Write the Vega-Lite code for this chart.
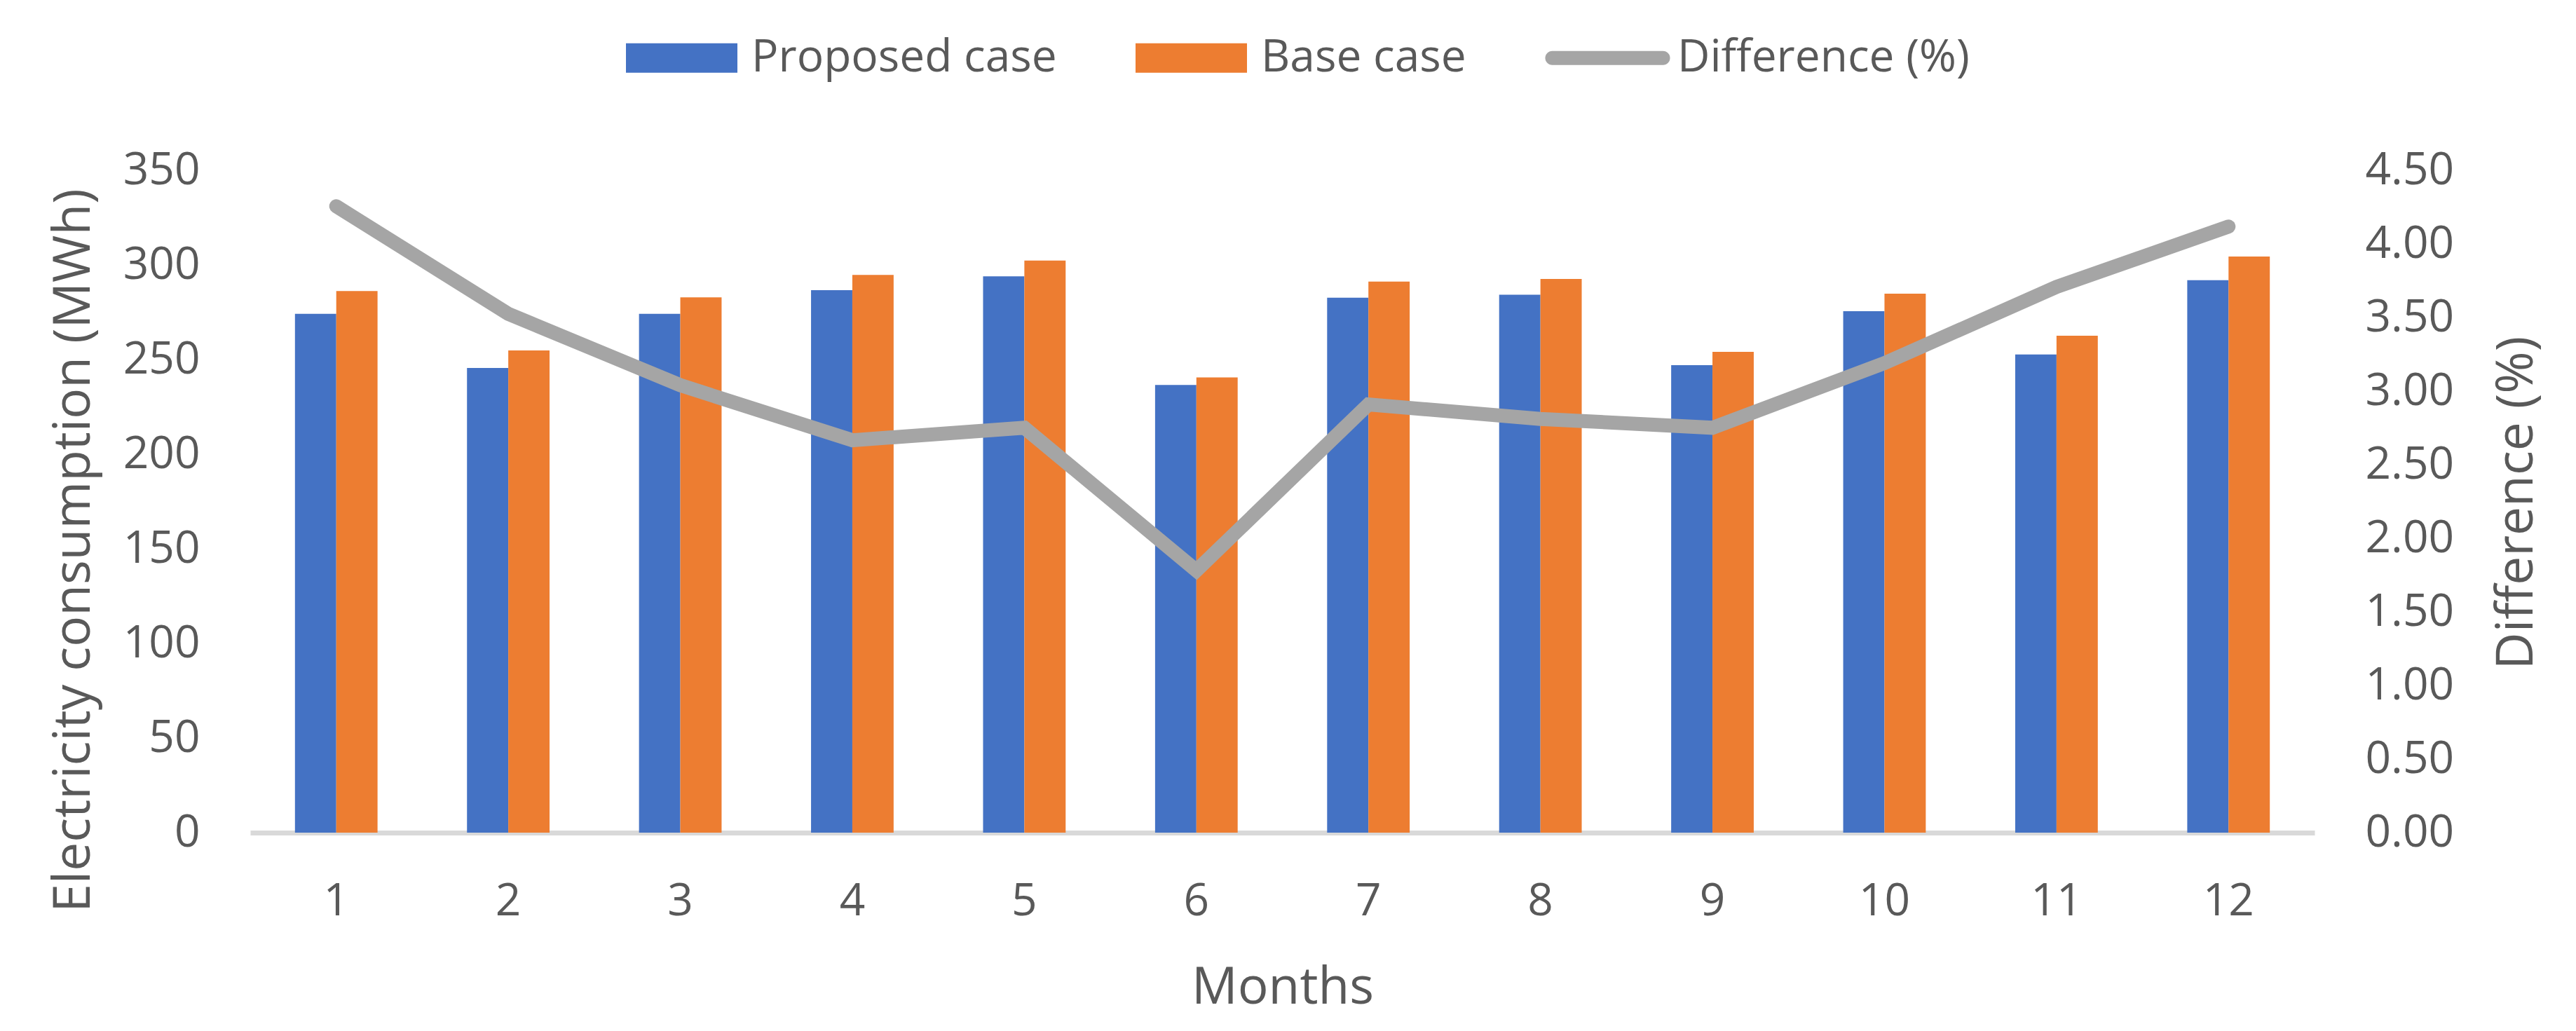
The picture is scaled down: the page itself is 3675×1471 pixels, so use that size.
{
  "$schema": "https://vega.github.io/schema/vega-lite/v6.json",
  "width": 2945,
  "height": 945,
  "autosize": {"type": "none"},
  "padding": {"left": 357, "top": 243, "right": 373, "bottom": 283},
  "background": "white",
  "config": {
    "view": {"stroke": null},
    "axis": {
      "labelFont": "Open Sans",
      "labelFontSize": 64,
      "labelColor": "#595959",
      "titleFont": "Open Sans",
      "titleFontSize": 73,
      "titleFontWeight": "normal",
      "titleColor": "#595959",
      "grid": false,
      "ticks": false
    }
  },
  "datasets": {
    "bars": [
      {"month": 1, "series": "Proposed case", "value": 274.2},
      {"month": 1, "series": "Base case", "value": 286.2},
      {"month": 2, "series": "Proposed case", "value": 245.6},
      {"month": 2, "series": "Base case", "value": 254.8},
      {"month": 3, "series": "Proposed case", "value": 274.2},
      {"month": 3, "series": "Base case", "value": 282.9},
      {"month": 4, "series": "Proposed case", "value": 286.7},
      {"month": 4, "series": "Base case", "value": 294.7},
      {"month": 5, "series": "Proposed case", "value": 294.0},
      {"month": 5, "series": "Base case", "value": 302.3},
      {"month": 6, "series": "Proposed case", "value": 236.6},
      {"month": 6, "series": "Base case", "value": 240.6},
      {"month": 7, "series": "Proposed case", "value": 282.7},
      {"month": 7, "series": "Base case", "value": 291.2},
      {"month": 8, "series": "Proposed case", "value": 284.3},
      {"month": 8, "series": "Base case", "value": 292.6},
      {"month": 9, "series": "Proposed case", "value": 247.0},
      {"month": 9, "series": "Base case", "value": 254.1},
      {"month": 10, "series": "Proposed case", "value": 275.6},
      {"month": 10, "series": "Base case", "value": 284.8},
      {"month": 11, "series": "Proposed case", "value": 252.7},
      {"month": 11, "series": "Base case", "value": 262.6},
      {"month": 12, "series": "Proposed case", "value": 291.9},
      {"month": 12, "series": "Base case", "value": 304.4}
    ],
    "diff": [
      {"month": 1, "series": "Difference (%)", "diff": 4.256},
      {"month": 2, "series": "Difference (%)", "diff": 3.525},
      {"month": 3, "series": "Difference (%)", "diff": 3.04},
      {"month": 4, "series": "Difference (%)", "diff": 2.666},
      {"month": 5, "series": "Difference (%)", "diff": 2.751},
      {"month": 6, "series": "Difference (%)", "diff": 1.781},
      {"month": 7, "series": "Difference (%)", "diff": 2.909},
      {"month": 8, "series": "Difference (%)", "diff": 2.811},
      {"month": 9, "series": "Difference (%)", "diff": 2.751},
      {"month": 10, "series": "Difference (%)", "diff": 3.19},
      {"month": 11, "series": "Difference (%)", "diff": 3.708},
      {"month": 12, "series": "Difference (%)", "diff": 4.118}
    ]
  },
  "encoding": {
    "x": {
      "field": "month",
      "type": "ordinal",
      "scale": {"paddingInner": 0.52, "paddingOuter": 0.26},
      "axis": {
        "title": "Months",
        "labelAngle": 0,
        "domain": true,
        "domainColor": "#D9D9D9",
        "domainWidth": 7,
        "labelPadding": 66,
        "titlePadding": 55
      }
    }
  },
  "layer": [
    {
      "data": {"name": "bars"},
      "mark": {"type": "bar"},
      "encoding": {
        "xOffset": {"field": "series", "type": "nominal", "scale": {"domain": ["Proposed case", "Base case"]}},
        "y": {
          "field": "value",
          "type": "quantitative",
          "scale": {"domain": [0, 350], "nice": false},
          "axis": {
            "title": "Electricity consumption (MWh)",
            "values": [0, 50, 100, 150, 200, 250, 300, 350],
            "domain": false,
            "labelPadding": 72,
            "titleAngle": -90,
            "titleX": -252,
            "titleY": 542,
            "titleAlign": "center",
            "titleBaseline": "middle"
          }
        },
        "color": {
          "field": "series",
          "type": "nominal",
          "scale": {
            "domain": ["Proposed case", "Base case", "Difference (%)"],
            "range": ["#4472C4", "#ED7D31", "#A5A5A5"]
          },
          "legend": {
            "title": null,
            "orient": "none",
            "direction": "horizontal",
            "legendX": 536,
            "legendY": -240,
            "padding": 0,
            "symbolSize": 25281,
            "labelFont": "Open Sans",
            "labelFontSize": 64,
            "labelColor": "#595959",
            "labelOffset": 20,
            "labelLimit": 2000,
            "columnPadding": 112,
            "encode": {
              "symbols": {
                "update": {
                  "shape": {"signal": "datum.label === 'Difference (%)' ? 'M-0.994,-0.126H0.994A0.126,0.126 0 0 1 0.994,0.126H-0.994A0.126,0.126 0 0 1 -0.994,-0.126Z' : 'M-1,-0.264H1V0.264H-1Z'"},
                  "fill": {"signal": "scale('color', datum.value)"},
                  "stroke": {"value": "transparent"},
                  "strokeWidth": {"value": 0},
                  "opacity": {"value": 1}
                }
              }
            }
          }
        }
      }
    },
    {
      "data": {"name": "diff"},
      "mark": {"type": "line", "strokeWidth": 20, "strokeCap": "round"},
      "encoding": {
        "y": {
          "field": "diff",
          "type": "quantitative",
          "scale": {"domain": [0, 4.5], "nice": false},
          "axis": {
            "orient": "right",
            "title": "Difference (%)",
            "values": [0, 0.5, 1, 1.5, 2, 2.5, 3, 3.5, 4, 4.5],
            "format": ".2f",
            "domain": false,
            "labelPadding": 72,
            "titleAngle": -90,
            "titleX": 288,
            "titleY": 474,
            "titleAlign": "center",
            "titleBaseline": "middle"
          }
        },
        "color": {"field": "series", "type": "nominal"}
      }
    }
  ],
  "resolve": {"scale": {"y": "independent"}}
}
